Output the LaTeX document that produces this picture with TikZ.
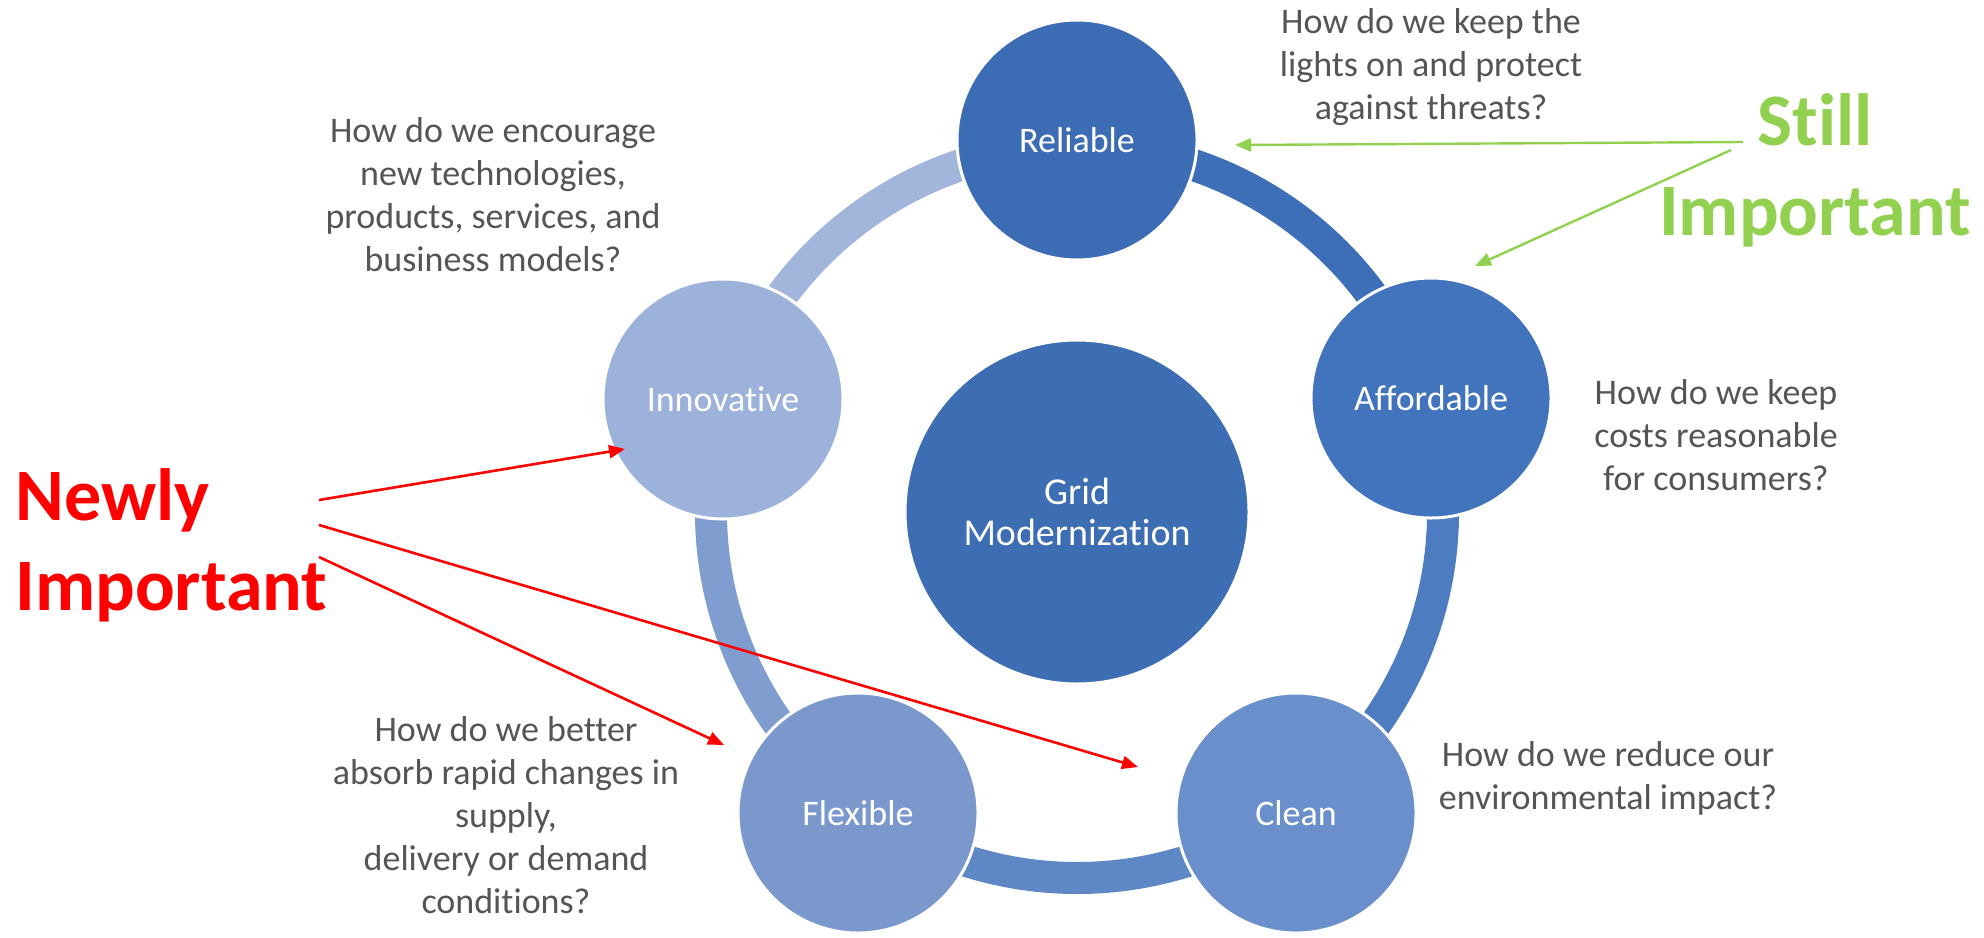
\documentclass[tikz,border=0pt]{standalone}
\usepackage{fontspec}
\setmainfont{Carlito}[Ligatures=NoCommon]
\usetikzlibrary{arrows.meta}

\definecolor{relblue}{HTML}{3C6CB4}
\definecolor{affblue}{HTML}{4174BC}
\definecolor{clnblue}{HTML}{6A8FCA}
\definecolor{flxblue}{HTML}{7B98CD}
\definecolor{innblue}{HTML}{9CB2DA}
\definecolor{hubblue}{HTML}{3D6DB2}
\definecolor{ringA}{HTML}{3D6FB8}
\definecolor{ringB}{HTML}{4D7DC0}
\definecolor{ringC}{HTML}{5D87C5}
\definecolor{ringD}{HTML}{809DD0}
\definecolor{ringE}{HTML}{A2B6DC}
\definecolor{askgray}{HTML}{555555}
\definecolor{stillgreen}{HTML}{92D050}
\definecolor{newred}{HTML}{FF0000}

\tikzset{
  bub/.style={circle, minimum size=120pt, inner sep=0pt, draw=white,
    line width=1.5pt, text=white, font=\fontsize{18}{21.5}\selectfont},
  hubbub/.style={bub, minimum size=172pt, align=center,
    font=\fontsize{19}{20.5}\selectfont},
  ask/.style={align=center, text=askgray, inner sep=0pt,
    font=\fontsize{18}{21.5}\selectfont},
  biglbl/.style={inner sep=0pt, font=\bfseries\fontsize{37}{45}\selectfont},
  redarrow/.style={draw=newred, line width=1.3pt,
    -{Triangle[length=8pt,width=6.5pt]}},
  greenarrow/.style={draw=stillgreen, line width=1.2pt,
    -{Triangle[length=8pt,width=6.5pt]}},
}

\begin{document}
\begin{tikzpicture}[x=0.5pt,y=-0.5pt]
\useasboundingbox[fill=white] (0,0) rectangle (1984,937);

\coordinate (hub) at (1077,512);

% ring segments joining the five outer circles
\foreach \a/\c in {-90/ringA, -18/ringB, 54/ringC, 126/ringD, 198/ringE}
  \draw[line width=16pt, \c] (hub) ++(\a:366) arc[start angle=\a, end angle=\a+72, radius=366];

% circles
\node[hubbub, fill=hubblue] (grid) at (hub) {Grid\\Modernization};
\node[bub, fill=relblue] (rel) at (1077,140) {Reliable};
\node[bub, fill=affblue] (aff) at (1431,398) {Affordable};
\node[bub, fill=clnblue] (cln) at (1296,813) {Clean};
\node[bub, fill=flxblue] (flx) at (858,813) {Flexible};
\node[bub, fill=innblue] (inn) at (723,399) {Innovative};

% questions
\node[ask] (qrel) at (1431,67) {How do we keep the\\lights on and protect\\against threats?};
\node[ask] (qinn) at (493,195) {How do we encourage\\new technologies,\\products, services, and\\business models?};
\node[ask] (qaff) at (1716,435) {How do we keep\\costs reasonable\\for consumers?};
\node[ask] (qcln) at (1608,778) {How do we reduce our\\environmental impact?};
\node[ask] (qflx) at (506,815) {How do we better\\absorb rapid changes in\\supply,\\delivery or demand\\conditions?};

% annotations
\node[biglbl, text=newred, align=left, anchor=west] (newly) at (15,545) {Newly\\Important};
\node[biglbl, text=stillgreen, align=center] (still) at (1815,170) {Still\\Important};

\coordinate (r0) at (319,500);
\coordinate (r1) at (319,525);
\coordinate (r2) at (319,557);
\coordinate (rt0) at (625,449);
\coordinate (rt1) at (1138,767);
\coordinate (rt2) at (724,745);
\draw[redarrow] (r0) -- (rt0);
\draw[redarrow] (r1) -- (rt1);
\draw[redarrow] (r2) -- (rt2);

\coordinate (g0) at (1743,142);
\coordinate (g1) at (1731,150);
\coordinate (gt0) at (1235,145);
\coordinate (gt1) at (1475,266);
\draw[greenarrow] (g0) -- (gt0);
\draw[greenarrow] (g1) -- (gt1);
\end{tikzpicture}
\end{document}
